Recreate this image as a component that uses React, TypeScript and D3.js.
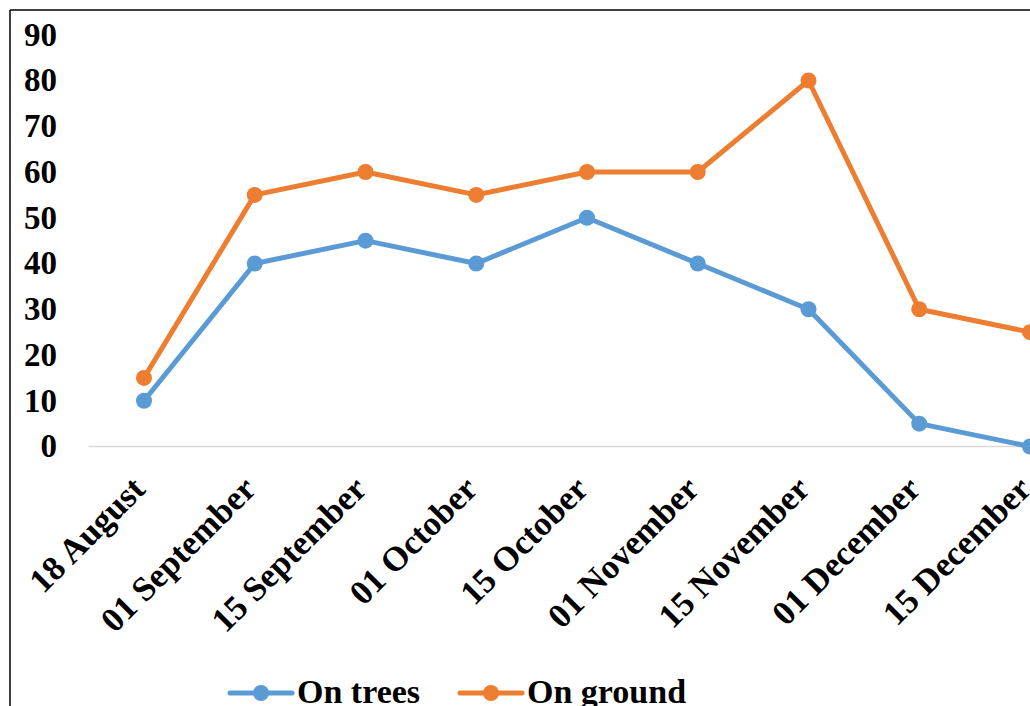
import React from "react";
import * as d3 from "d3";

const dates = [
  "18 August",
  "01 September",
  "15 September",
  "01 October",
  "15 October",
  "01 November",
  "15 November",
  "01 December",
  "15 December",
];
const onTrees = [10, 40, 45, 40, 50, 40, 30, 5, 0];
const onGround = [15, 55, 60, 55, 60, 60, 80, 30, 25];
const yTicks = [0, 10, 20, 30, 40, 50, 60, 70, 80, 90];

const W = 1030;
const H = 706;
const FONT = "'Liberation Serif', 'Times New Roman', serif";

export default function App() {
  const x = d3
    .scalePoint<string>()
    .domain(dates)
    .range([144, 144 + 110.75 * (dates.length - 1)]);
  const y = d3.scaleLinear().domain([0, 80]).range([446.5, 80.5]);

  const line = d3
    .line<number>()
    .x((_, i) => x(dates[i]) as number)
    .y((d) => y(d));

  const series = [
    { name: "On trees", values: onTrees, color: "#5B9BD5" },
    { name: "On ground", values: onGround, color: "#ED7D31" },
  ];

  const legendX = [230, 460];

  return (
    <svg
      width={W}
      height={H}
      style={{ position: "absolute", left: 0, top: 0, background: "#fff" }}
      fontFamily={FONT}
      fontWeight="bold"
    >
      <rect x={0} y={0} width={W} height={H} fill="#fff" />
      {/* frame */}
      <line x1={10} y1={10} x2={W} y2={10} stroke="#000" strokeWidth={1.5} />
      <line x1={10} y1={10} x2={10} y2={H} stroke="#000" strokeWidth={1.5} />

      {/* baseline */}
      <line x1={88.5} x2={W} y1={y(0)} y2={y(0)} stroke="#D9D9D9" strokeWidth={1.5} />

      {/* y tick labels */}
      {yTicks.map((t) => (
        <text
          key={t}
          x={57}
          y={y(t)}
          dy="0.33em"
          textAnchor="end"
          fontSize={33}
          fill="#000"
        >
          {t}
        </text>
      ))}

      {/* x tick labels */}
      {dates.map((d) => (
        <text
          key={d}
          transform={`translate(${(x(d) as number) + 3},${491}) rotate(-45)`}
          textAnchor="end"
          fontSize={34.5}
          fill="#000"
        >
          {d}
        </text>
      ))}

      {/* series */}
      {series.map((s) => (
        <g key={s.name}>
          <path
            d={line(s.values) as string}
            fill="none"
            stroke={s.color}
            strokeWidth={5}
            strokeLinejoin="round"
          />
          {s.values.map((v, i) => (
            <circle key={i} cx={x(dates[i]) as number} cy={y(v)} r={8} fill={s.color} />
          ))}
        </g>
      ))}

      {/* legend */}
      {series.map((s, i) => (
        <g key={s.name} transform={`translate(${legendX[i]},693)`}>
          <line x1={0} x2={62} y1={0} y2={0} stroke={s.color} strokeWidth={5} strokeLinecap="round" />
          <circle cx={31} cy={0} r={8} fill={s.color} />
          <text x={67} y={10} fontSize={34} fill="#000">
            {s.name}
          </text>
        </g>
      ))}
    </svg>
  );
}
